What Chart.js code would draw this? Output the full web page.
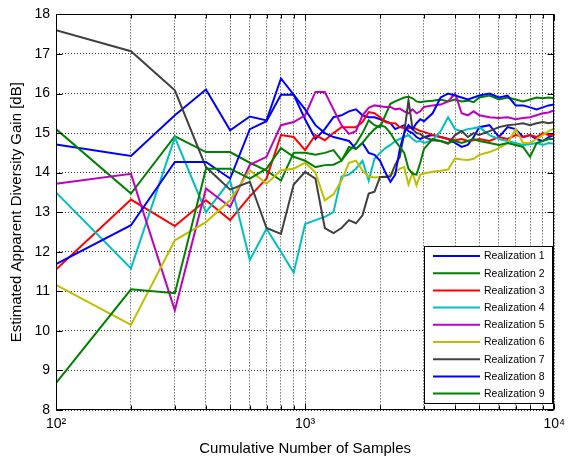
<!DOCTYPE html>
<html><head><meta charset="utf-8">
<script src="https://cdn.jsdelivr.net/npm/chart.js@4.4.1/dist/chart.umd.min.js"></script>
<style>html,body{margin:0;padding:0;background:#fff;overflow:hidden}</style>
</head><body>
<canvas id="c" width="571" height="463"></canvas>
<script>
// ---- data ----
const samples = [100,200,300,400,500,600,700,800,900,1000,
  1100,1200,1300,1400,1500,1600,1700,1800,1900,2000,
  2100,2200,2300,2400,2500,2600,2700,2800,2900,3000,
  3250,3500,3750,4000,4250,4500,4750,5000,
  5500,6000,6500,7000,7500,8000,8500,9000,9500,10000];

const real1 = [14.71,14.42,15.45,16.1,15.07,15.42,15.32,16.38,15.97,15.35,
  14.85,15.1,15.4,15.45,15.55,15.6,15.45,15.4,15.4,15.35,
  15.3,15.25,15.1,15.15,15.2,15.05,15.0,14.9,14.85,14.9,
  14.95,14.9,14.85,14.75,14.65,14.7,14.9,15.15,
  15.2,14.9,15.15,15.1,14.9,14.95,14.85,14.8,14.9,14.95];
const real2 = [15.1,13.47,14.92,14.52,14.52,14.25,14.05,13.8,14.5,14.5,
  14.45,14.5,14.57,14.31,14.55,14.73,15.0,15.32,15.2,15.15,
  15.45,15.74,15.8,15.85,15.9,15.92,15.88,15.8,15.78,15.8,
  15.82,15.85,15.8,15.85,15.8,15.82,15.78,15.9,
  15.95,15.85,15.9,15.85,15.8,15.85,15.9,15.88,15.9,15.88];
const real3 = [11.55,13.32,12.65,13.3,12.8,13.4,13.85,14.95,14.9,14.57,
  14.95,14.82,15.0,15.15,15.15,15.15,15.28,15.53,15.5,15.4,
  15.28,15.25,15.25,15.15,15.12,15.12,15.15,15.1,15.05,15.03,
  14.95,14.9,14.85,14.82,14.85,14.8,14.82,14.85,
  14.8,14.9,14.85,14.95,14.9,14.95,14.9,15.0,14.95,14.95];
const real4 = [13.5,11.58,14.89,13.0,13.8,11.79,12.58,12.0,11.47,12.7,
  12.8,12.88,13.0,13.9,13.95,14.1,14.3,13.8,14.35,14.5,
  14.62,14.7,14.8,14.85,14.9,14.95,14.85,14.78,14.8,14.75,
  14.82,15.05,15.4,15.1,15.05,15.1,15.12,15.15,
  14.95,14.85,14.8,14.75,14.7,14.72,14.75,14.7,14.75,14.73];
const real5 = [13.72,13.97,10.52,13.6,13.13,14.2,14.4,15.2,15.28,15.45,
  16.04,16.04,15.6,15.2,14.98,15.05,15.45,15.64,15.7,15.68,
  15.66,15.66,15.6,15.62,15.55,15.5,15.6,15.5,15.55,15.66,
  15.7,15.72,15.8,16.0,15.5,15.45,15.55,15.45,
  15.4,15.38,15.4,15.35,15.38,15.4,15.45,15.5,15.52,15.58];
const real6 = [11.16,10.15,12.29,12.75,13.3,14.06,13.72,14.06,14.1,14.25,
  14.0,13.3,13.45,13.8,14.25,14.3,14.05,13.9,13.88,13.89,
  13.9,13.95,14.0,14.1,14.14,13.7,14.0,13.68,13.95,13.98,
  14.02,14.05,14.08,14.36,14.33,14.32,14.35,14.45,
  14.52,14.62,14.75,15.1,14.75,14.75,14.85,14.95,15.05,15.12];
const real7 = [17.6,17.07,16.08,14.14,13.57,13.77,12.6,12.45,13.7,14.02,
  13.85,12.6,12.47,12.6,12.8,12.72,12.92,13.47,13.52,13.89,
  13.89,13.9,14.2,14.4,15.0,15.83,15.1,15.0,14.98,14.9,
  14.82,14.8,14.73,14.95,15.05,14.9,15.0,14.95,
  15.05,15.15,15.2,15.22,15.25,15.2,15.25,15.28,15.25,15.28];
const real8 = [11.69,12.67,14.27,14.27,13.85,15.1,15.3,15.97,15.97,15.6,
  15.2,15.0,14.9,14.85,14.8,14.6,14.75,14.5,14.45,14.3,
  14.0,13.77,13.95,14.6,15.0,15.2,15.1,15.25,15.35,15.3,
  15.5,15.9,16.0,15.95,15.9,15.85,15.9,15.95,
  16.0,15.9,15.95,15.7,15.7,15.65,15.6,15.65,15.7,15.72];
const real9 = [8.68,11.05,10.95,14.1,14.1,13.85,14.1,14.62,14.4,14.3,
  14.14,14.19,14.2,14.3,14.65,14.6,14.75,14.95,15.1,15.2,
  15.15,15.0,14.8,14.65,14.5,14.1,13.97,13.95,14.25,14.6,
  14.85,14.8,14.75,14.8,14.75,14.8,14.85,14.8,
  14.75,14.7,14.75,14.7,14.65,14.4,14.75,14.8,14.85,14.85];

const seriesValues = [real1,real2,real3,real4,real5,real6,real7,real8,real9];
const seriesNames = ['Realization 1','Realization 2','Realization 3','Realization 4','Realization 5','Realization 6','Realization 7','Realization 8','Realization 9'];
const seriesColors = ['#0000ff','#008000','#ff0000','#00bfbf','#bf00bf','#bfbf00','#404040','#0000ff','#008000'];

const xGridValues = [100,200,300,400,500,600,700,800,900,1000,2000,3000,4000,5000,6000,7000,8000,9000,10000];
const xTickLabels = {100:'10\u00B2',1000:'10\u00B3',10000:'10\u2074'};
const yMin = 8, yMax = 18;
const xTitle = 'Cumulative Number of Samples';
const yTitle = 'Estimated Apparent Diversity Gain [dB]';

const FONT = '"Liberation Sans", Arial, Helvetica, sans-serif';

const datasets = seriesValues.map((vals, i) => ({
  label: seriesNames[i],
  data: samples.map((s, k) => ({x: s, y: vals[k]})),
  borderColor: seriesColors[i],
  backgroundColor: seriesColors[i],
  borderWidth: 2,
  pointRadius: 0,
  fill: false,
  tension: 0,
  order: seriesValues.length - i
}));

const framePlugin = {
  id: 'frame',
  afterDraw(chart) {
    const ctx = chart.ctx;
    const a = chart.chartArea;
    const xs = chart.scales.x, ys = chart.scales.y;
    ctx.save();
    ctx.strokeStyle = '#000';
    ctx.lineWidth = 1;
    ctx.setLineDash([]);
    const L = Math.round(a.left) + 0.5, R = Math.round(a.right) - 0.5;
    const T = Math.round(a.top) + 0.5, B = Math.round(a.bottom) - 0.5;
    ctx.beginPath();
    // inward ticks y
    for (let v = yMin; v <= yMax; v++) {
      const p = Math.round(ys.getPixelForValue(v)) + 0.5;
      ctx.moveTo(L, p); ctx.lineTo(L + 6, p);
      ctx.moveTo(R, p); ctx.lineTo(R - 6, p);
    }
    // inward ticks x
    xGridValues.forEach(v => {
      const p = Math.round(xs.getPixelForValue(v)) + 0.5;
      const len = xTickLabels[v] ? 6 : 4;
      ctx.moveTo(p, B); ctx.lineTo(p, B - len);
      ctx.moveTo(p, T); ctx.lineTo(p, T + len);
    });
    ctx.stroke();
    ctx.strokeRect(L, T, R - L, B - T);

    // legend
    const lx = 424.5, ly = 246.5, lw = 128, lh = 157;
    ctx.fillStyle = '#fff';
    ctx.fillRect(lx, ly, lw, lh);
    ctx.strokeStyle = '#000';
    ctx.strokeRect(lx, ly, lw, lh);
    ctx.font = '10.5px ' + FONT;
    ctx.textBaseline = 'middle';
    ctx.textAlign = 'left';
    chart.data.datasets.forEach((ds, i) => {
      const y = 256 + i * 17.2;
      ctx.strokeStyle = ds.borderColor;
      ctx.lineWidth = 2;
      ctx.beginPath();
      ctx.moveTo(433, y); ctx.lineTo(480, y);
      ctx.stroke();
      ctx.fillStyle = '#000';
      ctx.fillText(ds.label, 484, y + 0.5);
    });
    ctx.restore();
  }
};

new Chart(document.getElementById('c'), {
  type: 'line',
  data: { datasets },
  options: {
    responsive: false,
    devicePixelRatio: 1,
    animation: false,
    events: [],
    layout: { padding: { top: 14, right: 12, left: 0, bottom: 0 } },
    plugins: { legend: { display: false }, tooltip: { enabled: false } },
    scales: {
      x: {
        type: 'logarithmic',
        min: 100, max: 10000,
        afterBuildTicks(scale) { scale.ticks = xGridValues.map(v => ({ value: v })); },
        afterFit(scale) { scale.height = 53; },
        ticks: {
          autoSkip: false, maxRotation: 0, padding: 6,
          color: '#000', font: { family: FONT, size: 14 },
          callback: (v) => xTickLabels[v] || ''
        },
        grid: { color: 'rgba(0,0,0,0.8)', lineWidth: 1, drawTicks: false },
        border: { display: false, dash: [1, 2] },
        title: { display: true, text: xTitle, color: '#000', font: { family: FONT, size: 15 }, padding: { top: 0, bottom: 5 } }
      },
      y: {
        type: 'linear',
        min: yMin, max: yMax,
        afterFit(scale) { scale.width = 56; },
        ticks: { stepSize: 1, padding: 6, color: '#000', font: { family: FONT, size: 14 } },
        grid: { color: 'rgba(0,0,0,0.8)', lineWidth: 1, drawTicks: false },
        border: { display: false, dash: [1, 2] },
        title: { display: true, text: yTitle, color: '#000', font: { family: FONT, size: 15 }, padding: { top: 8, bottom: 0 } }
      }
    }
  },
  plugins: [framePlugin]
});
</script>
</body></html>
